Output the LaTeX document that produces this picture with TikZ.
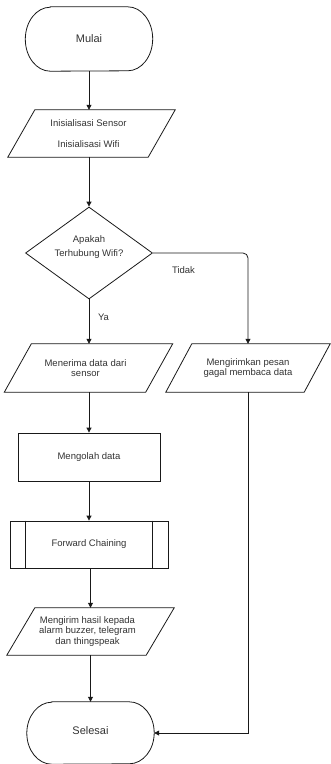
\documentclass[tikz,border=0pt]{standalone}
\usepackage{fontspec}
\setmainfont{Liberation Sans}
\usetikzlibrary{arrows.meta,shapes.geometric,calc}
\begin{document}
\begin{tikzpicture}[x=1pt,y=-1pt,
  every node/.style={text=black!80, font=\fontsize{9.5}{10.8}\selectfont, align=center, inner sep=0pt},
  line/.style={draw=black!90, line width=0.8pt},
  arr/.style={line, -{Triangle[length=5pt,width=5pt]}},
  termtext/.style={font=\fontsize{11}{13}\selectfont},
  procbox/.style={line, rectangle},
  decision/.style={line, diamond, shape aspect=1.4}]
\useasboundingbox (0,0) rectangle (331,764);

% nodes (outlines of terminals and data boxes are drawn below)
\node[termtext, minimum width=127pt, minimum height=64pt] (start) at (89,39) {\raisebox{-2pt}{Mulai}};
\node[minimum width=140pt, minimum height=47pt] (init) at (91.5,133.5) {\hspace*{-6pt}Inisialisasi Sensor\\[11pt]\hspace*{-6pt}Inisialisasi Wifi};
\node[decision, minimum width=127pt, minimum height=92pt,
      label={[yshift=6pt, font=\fontsize{9.5}{14}\selectfont, align=center]center:{Apakah\\Terhubung Wifi?}}] (q) at (89,253) {};
\node (no) at (183.5,270) {Tidak};
\node (yes) at (103.5,317) {Ya};
\node[minimum width=141pt, minimum height=48pt] (recv) at (88.5,368) {\hspace*{-6pt}Menerima data dari\\\hspace*{-6pt}sensor};
\node[minimum width=138pt, minimum height=48pt] (send) at (248,368) {Mengirimkan pesan\\gagal membaca data};
\node[procbox, minimum width=142pt, minimum height=48pt] (proc) at (89,457) {Mengolah data};
\node[procbox, minimum width=158pt, minimum height=47pt] (fc) at (89,544.5) {Forward Chaining};
\node[minimum width=139pt, minimum height=47pt] (out) at (90.5,631.5) {\hspace*{-6pt}Mengirim hasil kepada\\\hspace*{-6pt}alarm buzzer, telegram\\\hspace*{-6pt}dan thingspeak};
\node[termtext, minimum width=127pt, minimum height=62pt] (stop) at (90.5,733) {\raisebox{5pt}{Selesai}};

% terminal outlines with elliptic ends
\foreach \n/\ry in {start/32pt, stop/31pt}
  \draw[line] ($(\n.north west)+(25,0)$) -- ($(\n.north east)-(25,0)$)
    arc[start angle=90, end angle=-90, x radius=25pt, y radius=\ry]
    -- ($(\n.south west)+(25,0)$)
    arc[start angle=270, end angle=90, x radius=25pt, y radius=\ry] -- cycle;

% slanted data boxes
\foreach \n/\s in {init/13.5, recv/13.5, send/13, out/14}
  \draw[line] ($(\n.north west)+(\s,0)$) -- ($(\n.north east)+(\s,0)$)
    -- ($(\n.south east)-(\s,0)$) -- ($(\n.south west)-(\s,0)$) -- cycle;

% predefined-process side bars
\draw[line] ($(fc.north west)+(16,0)$) -- ($(fc.south west)+(16,0)$);
\draw[line] ($(fc.north east)-(16,0)$) -- ($(fc.south east)-(16,0)$);

% connectors
\draw[arr] (start.south) -- (start.south |- init.north);
\draw[arr] (start.south |- init.south) -- (q.north);
\draw[arr] (q.south) -- (q.south |- recv.north);
\draw[arr, rounded corners=5pt] (q.east) -- (q.east -| send.north) -- (send.north);
\draw[arr] (q.south |- recv.south) -- (proc.north);
\draw[arr] (proc.south) -- (fc.north);
\draw[arr] (out.north |- fc.south) -- (out.north);
\draw[arr] (out.south) -- (stop.north);
\draw[arr] (send.south) |- (stop.east);
\end{tikzpicture}
\end{document}
